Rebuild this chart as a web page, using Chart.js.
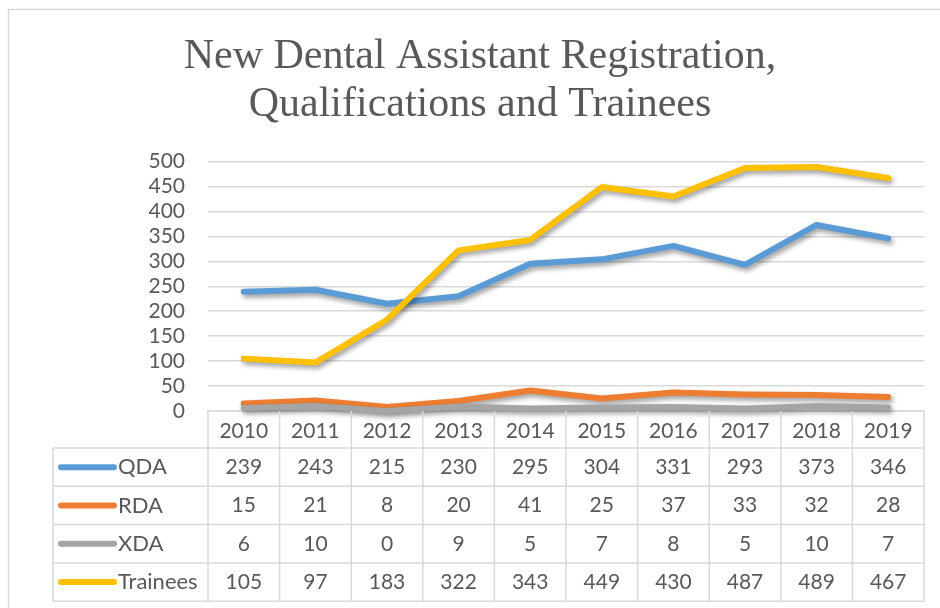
<!DOCTYPE html>
<html>
<head>
<meta charset="utf-8">
<script src="https://cdn.jsdelivr.net/npm/chart.js@4"></script>
<style>
  html, body { margin: 0; padding: 0; background: #fff; }
  #wrap { width: 940px; height: 608px; }
</style>
</head>
<body>
<div id="wrap"><canvas id="myChart" width="940" height="608"></canvas></div>
<script>
const years = ['2010', '2011', '2012', '2013', '2014', '2015', '2016', '2017', '2018', '2019'];
const qda = [239, 243, 215, 230, 295, 304, 331, 293, 373, 346];
const rda = [15, 21, 8, 20, 41, 25, 37, 33, 32, 28];
const xda = [6, 10, 0, 9, 5, 7, 8, 5, 10, 7];
const trainees = [105, 97, 183, 322, 343, 449, 430, 487, 489, 467];

const seriesNames = ['QDA', 'RDA', 'XDA', 'Trainees'];
const seriesColors = ['#5B9BD5', '#ED7D31', '#A5A5A5', '#FFC000'];
const seriesValues = [qda, rda, xda, trainees];

const textColor = '#595959';
const lineGray = '#D9D9D9';
const bodyFont = 'Lato, Calibri, sans-serif';

const ctx = document.getElementById('myChart');

// sombra suave como en Excel
const shadowPlugin = {
    id: 'shadow',
    beforeDatasetDraw(chart) {
        const c = chart.ctx;
        c.save();
        c.shadowColor = 'rgba(0,0,0,0.4)';
        c.shadowBlur = 5;
        c.shadowOffsetX = 2;
        c.shadowOffsetY = 3;
    },
    afterDatasetDraw(chart) {
        chart.ctx.restore();
    }
};

// marco exterior
const framePlugin = {
    id: 'frame',
    beforeDraw(chart) {
        const c = chart.ctx;
        c.save();
        c.strokeStyle = lineGray;
        c.lineWidth = 1.5;
        c.strokeRect(8.5, 9.5, 960, 700);
        c.restore();
    }
};

// tabla de datos bajo el grafico
const tablePlugin = {
    id: 'dataTable',
    afterDraw(chart) {
        const c = chart.ctx;
        const xs = chart.scales.x;
        const area = chart.chartArea;
        const colW = (xs.right - xs.left) / years.length;
        const top = area.bottom;
        const headBottom = top + 37;
        const rowH = 38.3;
        const bottom = headBottom + rowH * seriesNames.length;
        const tableLeft = 53;

        c.save();
        c.strokeStyle = lineGray;
        c.lineWidth = 1.5;

        // verticales
        for (let i = 0; i <= years.length; i++) {
            const x = xs.left + i * colW;
            c.beginPath();
            c.moveTo(x, top);
            c.lineTo(x, bottom);
            c.stroke();
        }
        c.beginPath();
        c.moveTo(tableLeft, headBottom);
        c.lineTo(tableLeft, bottom);
        c.stroke();

        // horizontales
        for (let r = 0; r <= seriesNames.length; r++) {
            const y = headBottom + r * rowH;
            c.beginPath();
            c.moveTo(tableLeft, y);
            c.lineTo(xs.right, y);
            c.stroke();
        }

        c.fillStyle = textColor;
        c.textBaseline = 'middle';

        seriesNames.forEach((name, r) => {
            const yc = headBottom + r * rowH + rowH / 2;

            // clave de leyenda
            c.strokeStyle = seriesColors[r];
            c.lineWidth = 6;
            c.lineCap = 'round';
            c.beginPath();
            c.moveTo(61, yc);
            c.lineTo(114, yc);
            c.stroke();

            c.font = '22px ' + bodyFont;
            c.textAlign = 'left';
            c.fillText(name, 118, yc);

            c.font = '21px ' + bodyFont;
            c.textAlign = 'center';
            seriesValues[r].forEach((v, i) => {
                c.fillText(String(v), xs.getPixelForValue(i), yc);
            });
        });
        c.restore();
    }
};

const datasets = seriesNames.map((name, i) => {
    return {
        label: name,
        data: seriesValues[i],
        borderColor: seriesColors[i],
        backgroundColor: seriesColors[i],
        borderWidth: 6,
        borderCapStyle: 'round',
        borderJoinStyle: 'round',
        pointRadius: 0,
        tension: 0,
        clip: false,
        order: seriesNames.length - i
    };
});

const chart = new Chart(ctx, {
    type: 'line',
    data: {
        labels: years,
        datasets: datasets
    },
    options: {
        responsive: false,
        animation: false,
        devicePixelRatio: 1,
        layout: {
            padding: { left: 36, right: 16, top: 9, bottom: 7 }
        },
        plugins: {
            legend: { display: false },
            tooltip: { enabled: false },
            title: {
                display: true,
                text: ['New Dental Assistant Registration,', 'Qualifications and Trainees'],
                color: textColor,
                font: { family: '"Liberation Serif", "Times New Roman", serif', size: 42, weight: 'normal', lineHeight: 1.15 },
                padding: { top: 24, bottom: 32 }
            }
        },
        scales: {
            x: {
                offset: true,
                grid: { display: false },
                border: { display: true, color: lineGray, width: 1.5 },
                ticks: {
                    color: textColor,
                    font: { family: bodyFont, size: 21 },
                    padding: 0,
                    maxRotation: 0
                },
                afterFit(scale) {
                    scale.height = 190;
                }
            },
            y: {
                min: 0,
                max: 500,
                ticks: {
                    stepSize: 50,
                    autoSkip: false,
                    color: textColor,
                    font: { family: bodyFont, size: 21 },
                    padding: 23
                },
                grid: { color: lineGray, lineWidth: 1.5, drawTicks: false },
                border: { display: false },
                afterFit(scale) {
                    scale.width = 172;
                }
            }
        }
    },
    plugins: [shadowPlugin, framePlugin, tablePlugin]
});
</script>
</body>
</html>
